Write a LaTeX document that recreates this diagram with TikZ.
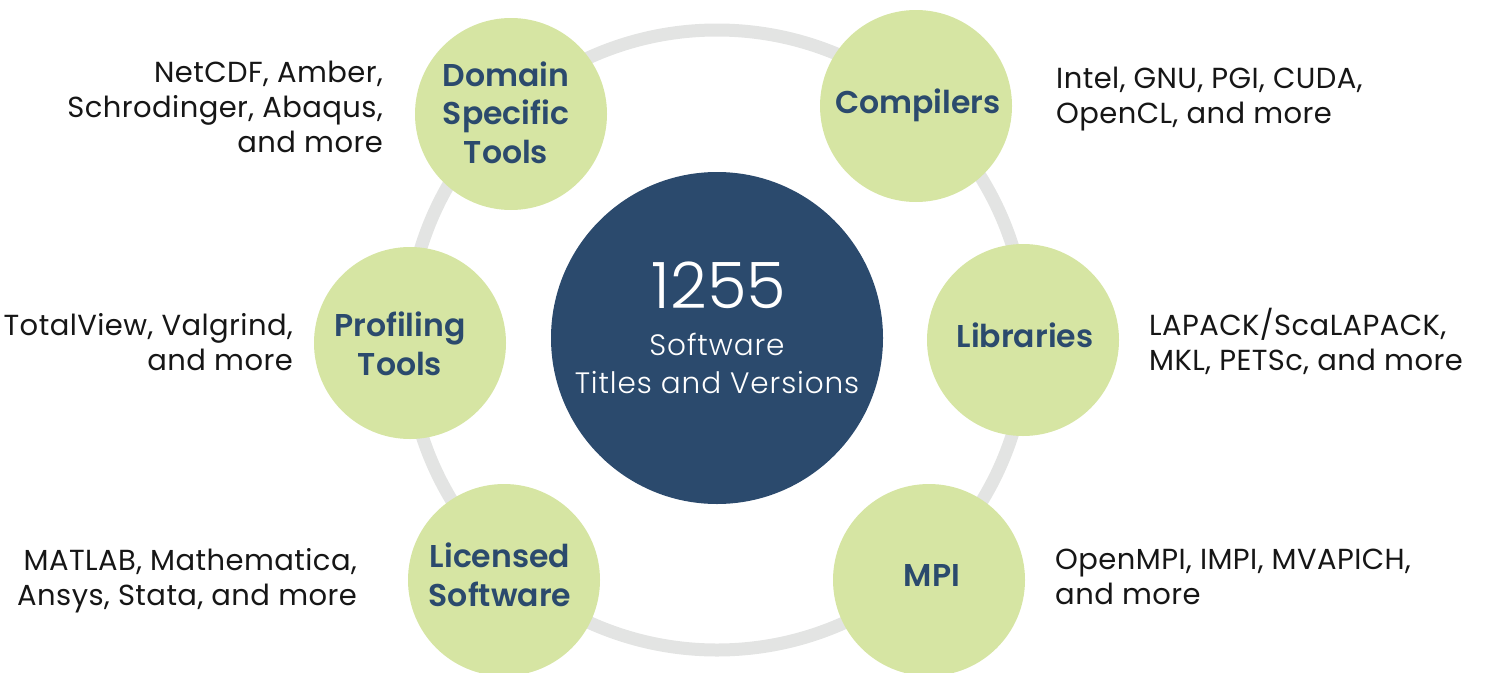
\documentclass[tikz,border=0pt]{standalone}
\usepackage{fontspec}
\setmainfont{Poppins}[BoldFont={Poppins SemiBold}]
\newfontfamily\hubfont{Poppins Light}
\definecolor{navy}{HTML}{2B4A6D}
\definecolor{leaf}{HTML}{D6E5A3}
\definecolor{ringgray}{HTML}{E3E4E3}
\definecolor{ink}{HTML}{161616}
\begin{document}
\begin{tikzpicture}[x=1pt,y=-1pt,
  bubble/.style={circle,fill=leaf,draw=none,minimum size=192pt,inner sep=0pt},
  hub/.style={circle,fill=navy,draw=none,minimum size=332pt,inner sep=0pt},
  title/.style={inner sep=0pt,text=navy,align=center,font=\fontsize{31.5}{38.5}\selectfont\bfseries},
  desc/.style={inner sep=0pt,text=ink,font=\fontsize{29}{35}\selectfont\addfontfeatures{LetterSpace=1.5}},
  hubtext/.style={inner sep=0pt,text=white,align=center}]
\useasboundingbox (0,0) rectangle (1495,672);
% ring
\draw[ringgray,line width=13pt] (717,340) circle[radius=310];
% hub
\node[hub] (hub) at (717,338) {};
\node[hubtext,anchor=base,font=\hubfont\fontsize{64}{64}\selectfont] (num) at (719,308) {1255};
\node[hubtext,anchor=base,font=\hubfont\fontsize{29.5}{38}\selectfont\addfontfeatures{LetterSpace=3}] (sw) at (717,393) {Software\\Titles and Versions};
% bubbles
\node[bubble] (dom) at (511,114) {};
\node[bubble] (comp) at (916,106) {};
\node[bubble] (lib) at (1023,340) {};
\node[bubble] (mpi) at (929,580) {};
\node[bubble] (lic) at (504,580) {};
\node[bubble] (prof) at (410,343) {};
% bubble titles
\node[title,anchor=base] (domt) at (506,163) {Domain\\Specific\\Tools};
\node[title,anchor=base] (compt) at (918,113) {Compilers};
\node[title,anchor=base] (libt) at (1025,347) {Libraries};
\node[title,anchor=base] (mpit) at (932,586) {MPI};
\node[title,anchor=base] (lict) at (500,606) {Licensed\\Software};
\node[title,anchor=base] (proft) at (400,375) {Profiling\\Tools};
% descriptions
\node[desc,align=right,anchor=base east] (domd) at (383,152) {NetCDF, Amber,\\Schrodinger, Abaqus,\\and more};
\node[desc,align=left,anchor=base west] (compd) at (1056,123) {Intel, GNU, PGI, CUDA,\\OpenCL, and more};
\node[desc,align=right,anchor=base east] (profd) at (293,370) {TotalView, Valgrind,\\and more};
\node[desc,align=left,anchor=base west] (libd) at (1149,370) {LAPACK/ScaLAPACK,\\MKL, PETSc, and more};
\node[desc,align=right,anchor=base east] (licd) at (357,605) {MATLAB, Mathematica,\\Ansys, Stata, and more};
\node[desc,align=left,anchor=base west] (mpid) at (1055,604) {OpenMPI, IMPI, MVAPICH,\\and more};
\end{tikzpicture}
\end{document}
